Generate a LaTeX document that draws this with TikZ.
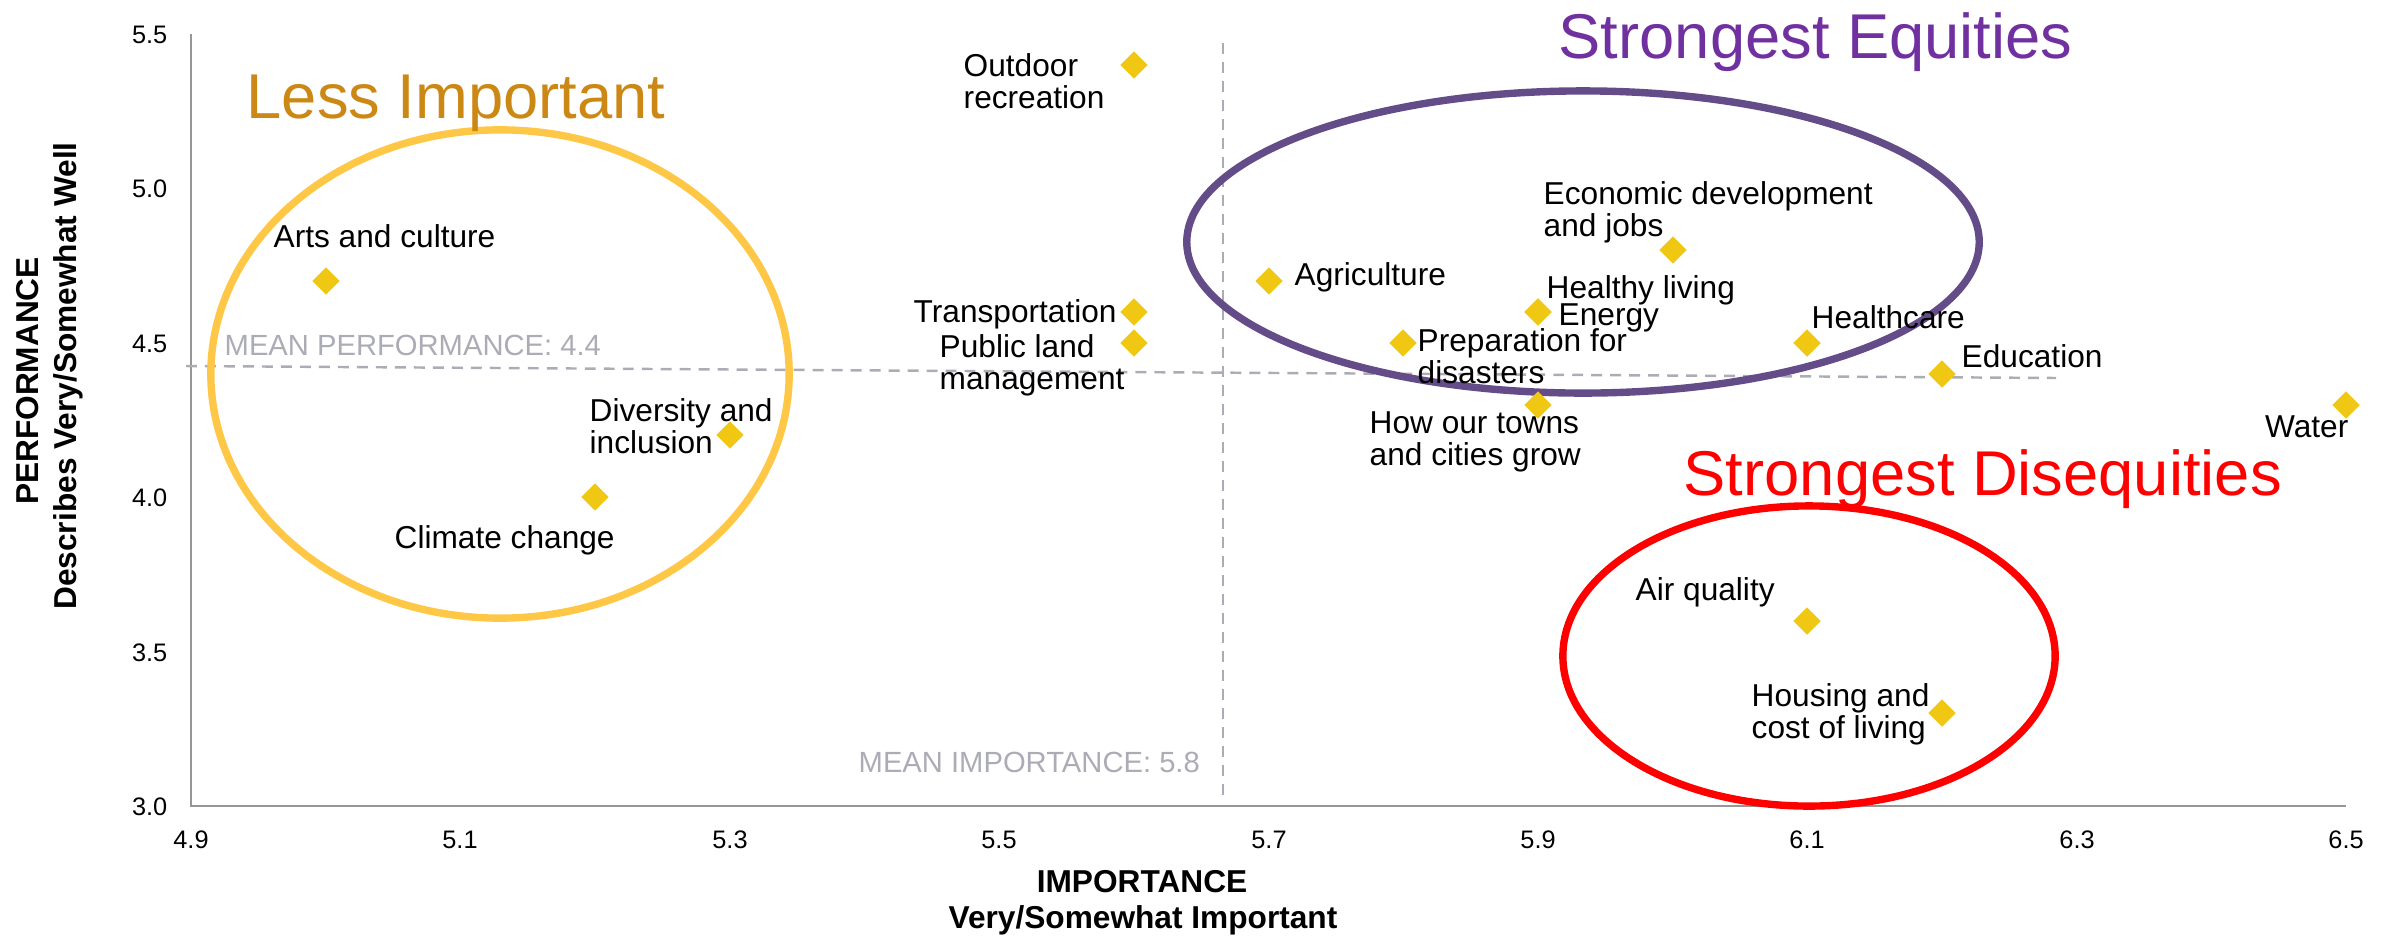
\documentclass[tikz,border=0pt]{standalone}
\usepackage{fontspec}
\setmainfont{Liberation Sans}
\usetikzlibrary{shapes.geometric}
\definecolor{dia}{RGB}{240,200,20}
\definecolor{axisgray}{RGB}{150,150,150}
\definecolor{meangray}{RGB}{172,172,182}
\definecolor{lessring}{RGB}{255,199,70}
\definecolor{lesstext}{RGB}{204,136,20}
\definecolor{eqring}{RGB}{99,76,135}
\definecolor{eqtext}{RGB}{112,48,160}
\definecolor{disred}{RGB}{255,0,0}
\begin{document}
\begin{tikzpicture}[x=0.01cm,y=-0.01cm,
  pt/.style={diamond, fill=dia, minimum width=0.28cm, minimum height=0.28cm, inner sep=0pt},
  lbl/.style={font=\fontsize{9}{9}\selectfont, inner sep=0pt, align=left, anchor=base west},
  tick/.style={font=\fontsize{7.2}{7.2}\selectfont, inner sep=0pt},
  meanlbl/.style={font=\fontsize{8.3}{8.3}\selectfont, text=meangray, inner sep=0pt, anchor=base west},
  meanline/.style={draw=meangray, line width=0.7pt, dash pattern=on 3.1pt off 2.3pt},
  axtitle/.style={font=\fontsize{9}{9}\selectfont\bfseries, inner sep=0pt, anchor=base},
  bigtitle/.style={font=\fontsize{18}{18}\selectfont, inner sep=0pt, anchor=base west},
  ring/.style={line width=2.1pt}
]
\useasboundingbox (0,0) rectangle (2391,939);

% axes
\coordinate (org) at (191,806);
\coordinate (ytop) at (191,34);
\coordinate (xend) at (2346,806);
\draw[axisgray, line width=0.6pt] (ytop) -- (org) -- (xend);

% mean lines
\coordinate (mpA) at (186,366);
\coordinate (mpB) at (2056,378);
\coordinate (miA) at (1223,43);
\coordinate (miB) at (1223,800);
\draw[meanline] (mpA) -- (mpB);
\draw[meanline] (miA) -- (miB);
\node[meanlbl] (mplbl) at (224,355) {MEAN PERFORMANCE: 4.4};
\node[meanlbl] (milbl) at (858,772) {MEAN IMPORTANCE: 5.8};

% y ticks
\node[tick, anchor=base east] (y30) at (168,815) {3.0};
\node[tick, anchor=base east] (y35) at (168,661) {3.5};
\node[tick, anchor=base east] (y40) at (168,506) {4.0};
\node[tick, anchor=base east] (y45) at (168,352) {4.5};
\node[tick, anchor=base east] (y50) at (168,197) {5.0};
\node[tick, anchor=base east] (y55) at (168,43) {5.5};
% x ticks
\node[tick, anchor=base] (x49) at (191,848) {4.9};
\node[tick, anchor=base] (x51) at (460,848) {5.1};
\node[tick, anchor=base] (x53) at (730,848) {5.3};
\node[tick, anchor=base] (x55) at (999,848) {5.5};
\node[tick, anchor=base] (x57) at (1269,848) {5.7};
\node[tick, anchor=base] (x59) at (1538,848) {5.9};
\node[tick, anchor=base] (x61) at (1807,848) {6.1};
\node[tick, anchor=base] (x63) at (2077,848) {6.3};
\node[tick, anchor=base] (x65) at (2346,848) {6.5};

% axis titles
\node[axtitle, rotate=90] (yt1) at (38,381) {PERFORMANCE};
\node[axtitle, rotate=90] (yt2) at (77,376) {Describes Very/Somewhat Well};
\node[axtitle] (xt1) at (1142,892) {IMPORTANCE};
\node[axtitle] (xt2) at (1143,928) {Very/Somewhat Important};

% rings
\draw[ring, lessring] (500,374) ellipse [x radius=2.89cm, y radius=2.44cm];
\draw[ring, eqring] (1583,242) ellipse [x radius=3.96cm, y radius=1.51cm];
\draw[ring, disred] (1809,656) ellipse [x radius=2.46cm, y radius=1.50cm];

% big titles
\node[bigtitle, text=lesstext] (tless) at (246,118) {Less Important};
\node[bigtitle, text=eqtext] (teq) at (1558,58) {Strongest Equities};
\node[bigtitle, text=disred] (tdis) at (1683,495) {Strongest Disequities};

% points
\node[pt] (p-out) at (1134,65) {};
\node[pt] (p-arts) at (326,281) {};
\node[pt] (p-trans) at (1134,312) {};
\node[pt] (p-publ) at (1134,343) {};
\node[pt] (p-div) at (730,435) {};
\node[pt] (p-clim) at (595,497) {};
\node[pt] (p-agri) at (1269,281) {};
\node[pt] (p-econ) at (1673,250) {};
\node[pt] (p-heal) at (1538,312) {};
\node[pt] (p-ener) at (1538,312) {};
\node[pt] (p-prep) at (1403,343) {};
\node[pt] (p-hcare) at (1807,343) {};
\node[pt] (p-edu) at (1942,374) {};
\node[pt] (p-towns) at (1538,405) {};
\node[pt] (p-water) at (2346,405) {};
\node[pt] (p-air) at (1807,621) {};
\node[pt] (p-hous) at (1942,713) {};

% labels (multi-line: anchor at baseline of last line)
\node[lbl] (l-out) at (963,108) {Outdoor\\recreation};
\node[lbl] (l-arts) at (273,247) {Arts and culture};
\node[lbl] (l-trans) at (913,322) {Transportation};
\node[lbl] (l-publ) at (939,389) {Public land\\management};
\node[lbl] (l-div) at (589,453) {Diversity and\\inclusion};
\node[lbl] (l-clim) at (394,548) {Climate change};
\node[lbl] (l-agri) at (1294,285) {Agriculture};
\node[lbl] (l-econ) at (1543,236) {Economic development\\and jobs};
\node[lbl] (l-heal) at (1546,298) {Healthy living};
\node[lbl] (l-ener) at (1558,325) {Energy};
\node[lbl] (l-prep) at (1417,383) {Preparation for\\disasters};
\node[lbl] (l-hcare) at (1811,328) {Healthcare};
\node[lbl] (l-edu) at (1961,367) {Education};
\node[lbl] (l-towns) at (1369,465) {How our towns\\and cities grow};
\node[lbl, anchor=base east] (l-water) at (2349,437) {Water};
\node[lbl] (l-air) at (1635,600) {Air quality};
\node[lbl] (l-hous) at (1751,738) {Housing and\\cost of living};
\end{tikzpicture}
\end{document}
